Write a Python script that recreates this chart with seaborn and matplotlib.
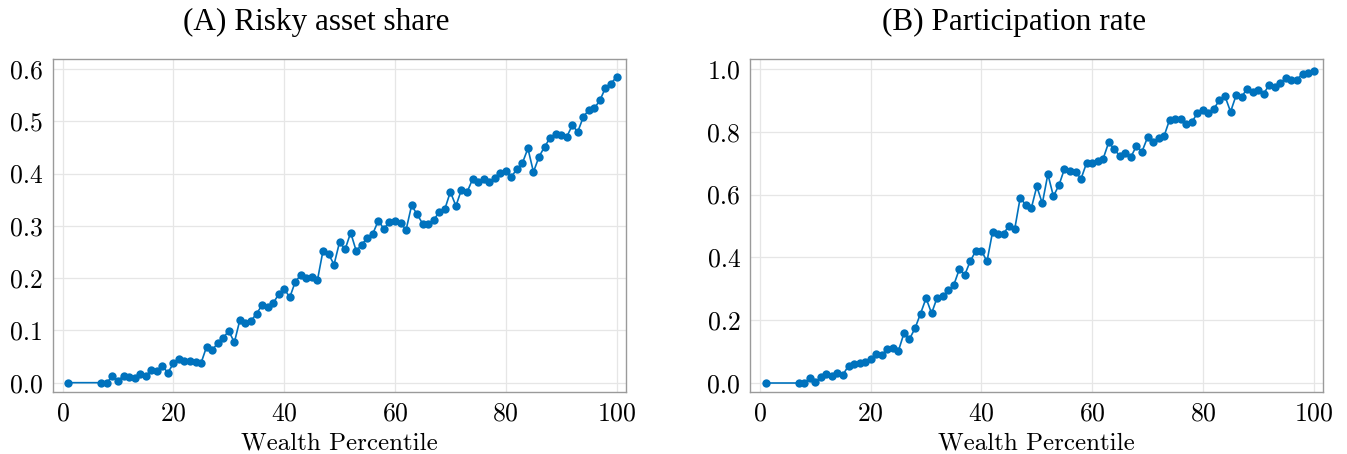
import matplotlib
matplotlib.use("Agg")
import matplotlib.pyplot as plt
import seaborn as sns
import numpy as np
import pandas as pd

percentile = [1] + list(range(7, 101))

risky_share = [
    0.000, 0.000, 0.000, 0.013, 0.004, 0.013, 0.010, 0.009, 0.017, 0.013,
    0.024, 0.022, 0.032, 0.019, 0.037, 0.045, 0.042, 0.041, 0.040, 0.038,
    0.069, 0.062, 0.076, 0.086, 0.099, 0.077, 0.120, 0.115, 0.118, 0.132,
    0.148, 0.144, 0.152, 0.169, 0.180, 0.163, 0.193, 0.206, 0.201, 0.202,
    0.196, 0.252, 0.246, 0.226, 0.269, 0.255, 0.287, 0.252, 0.264, 0.277,
    0.285, 0.310, 0.294, 0.308, 0.310, 0.306, 0.292, 0.339, 0.322, 0.304,
    0.304, 0.311, 0.327, 0.332, 0.365, 0.338, 0.369, 0.364, 0.389, 0.383,
    0.389, 0.383, 0.392, 0.401, 0.405, 0.394, 0.408, 0.420, 0.448, 0.403,
    0.432, 0.451, 0.468, 0.475, 0.473, 0.470, 0.492, 0.480, 0.508, 0.522,
    0.525, 0.540, 0.564, 0.572, 0.585,
]

participation = [
    0.000, 0.000, 0.000, 0.016, 0.004, 0.018, 0.028, 0.022, 0.031, 0.027,
    0.055, 0.060, 0.063, 0.066, 0.077, 0.092, 0.089, 0.109, 0.112, 0.102,
    0.158, 0.140, 0.174, 0.221, 0.270, 0.222, 0.272, 0.276, 0.295, 0.312,
    0.362, 0.345, 0.389, 0.421, 0.422, 0.387, 0.480, 0.476, 0.476, 0.501,
    0.489, 0.590, 0.567, 0.556, 0.626, 0.572, 0.665, 0.595, 0.630, 0.682,
    0.676, 0.672, 0.651, 0.701, 0.701, 0.706, 0.715, 0.767, 0.744, 0.723,
    0.733, 0.720, 0.755, 0.737, 0.782, 0.766, 0.780, 0.787, 0.839, 0.842,
    0.842, 0.825, 0.831, 0.859, 0.870, 0.860, 0.874, 0.901, 0.913, 0.864,
    0.916, 0.912, 0.937, 0.927, 0.934, 0.922, 0.950, 0.943, 0.957, 0.970,
    0.966, 0.966, 0.985, 0.986, 0.994,
]

titles = ["(A) Risky asset share", "(B) Participation rate"]
x_ticks = [0, 20, 40, 60, 80, 100]
y_ticks_a = [0.0, 0.1, 0.2, 0.3, 0.4, 0.5, 0.6]
y_ticks_b = [0.0, 0.2, 0.4, 0.6, 0.8, 1.0]
xlabel = "Wealth Percentile"

sns.set_theme(style="whitegrid")
plt.rcParams["font.family"] = ["cmr10", "DejaVu Serif"]
plt.rcParams["axes.formatter.use_mathtext"] = True
plt.rcParams["mathtext.fontset"] = "cm"

fig = plt.figure(figsize=(13.47, 4.54), dpi=100)
ax_a = fig.add_axes([0.0391, 0.1359, 0.4256, 0.7335])
ax_b = fig.add_axes([0.5568, 0.1359, 0.4254, 0.7335])

color = "#0072BD"
df_a = pd.DataFrame({"p": percentile, "v": risky_share})
df_b = pd.DataFrame({"p": percentile, "v": participation})

panels = [
    (ax_a, df_a, y_ticks_a, (-0.0184, 0.6185), titles[0]),
    (ax_b, df_b, y_ticks_b, (-0.0296, 1.031), titles[1]),
]

for ax, df, yt, ylim, title in panels:
    sns.lineplot(data=df, x="p", y="v", ax=ax, color=color, marker="o",
                 markersize=6, markeredgewidth=0, linewidth=1.2)
    ax.set_xlim(-1.8, 101.7)
    ax.set_ylim(*ylim)
    ax.set_xticks(x_ticks)
    ax.set_yticks(yt)
    ax.set_yticklabels([f"{v:.1f}" for v in yt])
    ax.set_xlabel(xlabel, fontsize=18, labelpad=5, color="black")
    ax.set_ylabel("")
    ax.set_title(title, fontsize=22.5, pad=21, x=0.46, color="black",
                 family=["Liberation Serif"])
    ax.grid(True, color="#e6e6e6", linewidth=0.9)
    for s in ax.spines.values():
        s.set_visible(True)
        s.set_color("#9a9a9a")
        s.set_linewidth(1.0)
    ax.tick_params(axis="both", which="major", labelsize=18.5, labelcolor="black",
                   length=4, width=0.8, direction="out", pad=3, color="#9a9a9a")
    ax.set_facecolor("white")

fig.savefig("out.png", dpi=100, facecolor="white")
